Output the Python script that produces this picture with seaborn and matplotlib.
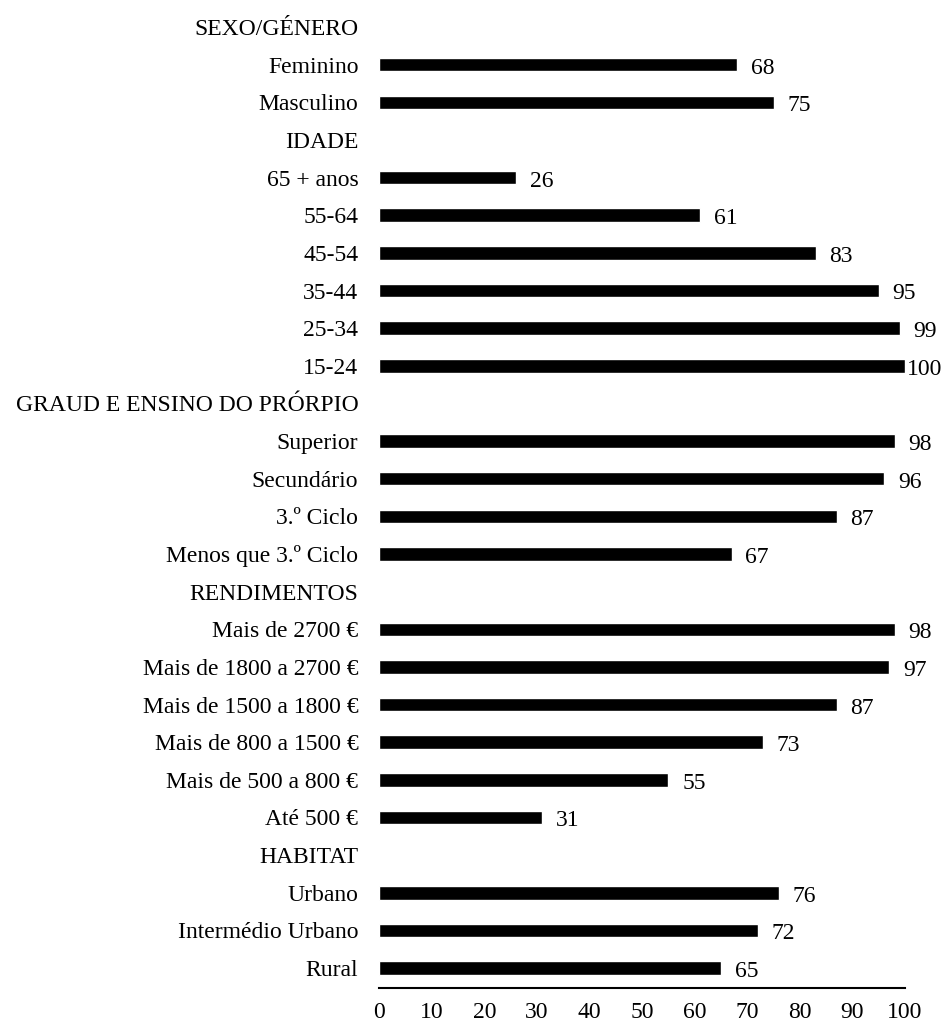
import numpy as np
import pandas as pd
import matplotlib
matplotlib.use("Agg")
import matplotlib.pyplot as plt
import seaborn as sns

# Row labels from top to bottom; section headers carry no value
labels = [
    "SEXO/GÉNERO", "Feminino", "Masculino",
    "IDADE", "65 + anos", "55-64", "45-54", "35-44", "25-34", "15-24",
    "GRAUD E ENSINO DO PRÓRPIO", "Superior", "Secundário", "3.º Ciclo", "Menos que 3.º Ciclo",
    "RENDIMENTOS", "Mais de 2700 €", "Mais de 1800 a 2700 €", "Mais de 1500 a 1800 €",
    "Mais de 800 a 1500 €", "Mais de 500 a 800 €", "Até 500 €",
    "HABITAT", "Urbano", "Intermédio Urbano", "Rural",
]
values = [
    np.nan, 68, 75,
    np.nan, 26, 61, 83, 95, 99, 100,
    np.nan, 98, 96, 87, 67,
    np.nan, 98, 97, 87, 73, 55, 31,
    np.nan, 76, 72, 65,
]
x_ticks = [0, 10, 20, 30, 40, 50, 60, 70, 80, 90, 100]

df = pd.DataFrame({"label": labels, "value": values})

sns.set_theme(style="white")
plt.rcParams["font.family"] = ["Liberation Serif", "DejaVu Serif"]
FS = 17

fig = plt.figure(figsize=(9.48, 10.25), dpi=100)
ax = fig.add_axes([0.40, 0.0361, 0.5547, 0.9559])

sns.barplot(data=df, x="value", y="label", order=labels, orient="h",
            color="black", width=0.36, saturation=1, errorbar=None, ax=ax)

# Value labels to the right of each bar
for i, v in enumerate(values):
    if np.isnan(v):
        continue
    dx = 10 if v < 100 else 1
    ax.annotate(f"{v:g}", xy=(v, i), xytext=(dx, -2.5), textcoords="offset points",
                ha="left", va="center", fontsize=FS, color="black",
                annotation_clip=False)

ax.set_xlim(0, 100)
ax.set_ylim(25.53, -0.5)
ax.set_xticks(x_ticks)
ax.set_xticklabels([str(t) for t in x_ticks])
ax.set_xlabel("")
ax.set_ylabel("")
ax.tick_params(axis="x", length=0, pad=10, labelsize=FS, colors="black")
ax.tick_params(axis="y", length=0, pad=15, labelsize=FS, colors="black")

for side in ["top", "right", "left"]:
    ax.spines[side].set_visible(False)
ax.spines["bottom"].set_color("black")
ax.spines["bottom"].set_linewidth(1.5)
ax.grid(False)

fig.savefig("out.png", dpi=100, facecolor="white")
